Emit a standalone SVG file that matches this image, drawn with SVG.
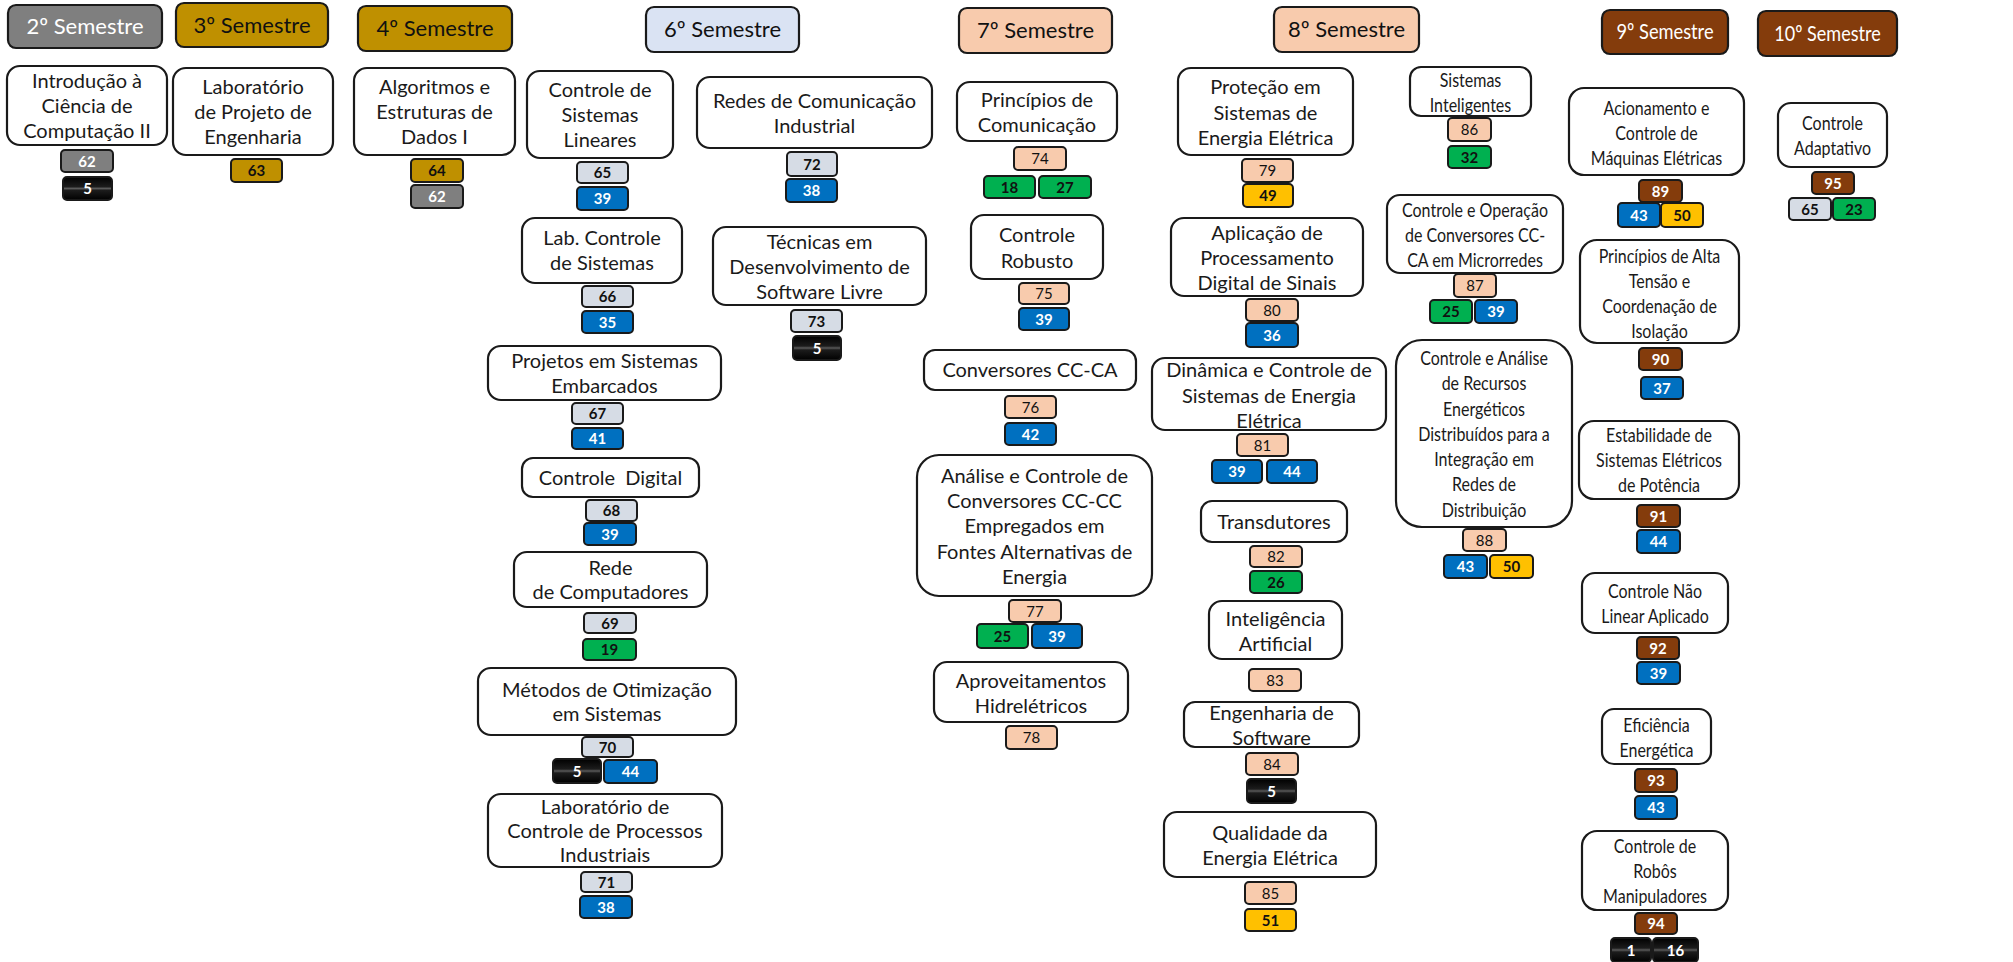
<svg xmlns="http://www.w3.org/2000/svg" width="2013" height="962" viewBox="0 0 2013 962">
<defs>
<linearGradient id="blk" x1="0" y1="0" x2="0" y2="1">
<stop offset="0" stop-color="#000"/><stop offset="0.42" stop-color="#1c1c1c"/><stop offset="0.5" stop-color="#5a5a5a"/><stop offset="0.58" stop-color="#1c1c1c"/><stop offset="1" stop-color="#000"/>
</linearGradient>
<style>
text{font-family:Lato,"Liberation Sans",sans-serif;text-anchor:middle}
.box{fill:#fff;stroke:#1a1a1a;stroke-width:2.2}
.t{font-size:20px;fill:#1a1a1a}
.hd rect{stroke:#1a1a1a;stroke-width:2.2}
.ht{font-size:22px}
.b rect{stroke:#1a1a1a;stroke-width:2}
.b text{font-size:15px;font-weight:bold}
.gray{fill:#7f7f7f}.gold{fill:#bf9000}.lg{fill:#d6dce5}.peach{fill:#f8cbad}.blue{fill:#0070c0}.green{fill:#00b050}.yel{fill:#ffc000}.brown{fill:#843c0c}.blk{fill:url(#blk)}
.w{fill:#fff}.k{fill:#111}.nw{font-weight:normal !important}
</style>
</defs>
<rect width="2013" height="962" fill="#fff"/>

<g id="headers">
<g id="h2" class="hd"><rect x="8" y="5" width="154" height="43" rx="8" class="gray"/><text class="ht w" x="85" y="34">2º Semestre</text></g>
<g id="h3" class="hd"><rect x="176" y="3" width="152" height="44" rx="8" class="gold"/><text class="ht k" x="252" y="32.5">3º Semestre</text></g>
<g id="h4" class="hd"><rect x="358" y="6" width="154" height="45" rx="8" class="gold"/><text class="ht k" x="435" y="36">4º Semestre</text></g>
<g id="h6" class="hd"><rect x="646" y="7" width="153" height="45" rx="8" fill="#dae3f3"/><text class="ht k" x="722.5" y="37">6º Semestre</text></g>
<g id="h7" class="hd"><rect x="959" y="8" width="153" height="45" rx="8" class="peach"/><text class="ht k" x="1035.5" y="38">7º Semestre</text></g>
<g id="h8" class="hd"><rect x="1274" y="7" width="145" height="45" rx="8" class="peach"/><text class="ht k" x="1346.5" y="37">8º Semestre</text></g>
<g id="h9" class="hd"><rect x="1602" y="10" width="126" height="44" rx="8" class="brown"/><text class="ht w" transform="translate(1665 0) scale(0.83 1)" x="0" y="39.5">9º Semestre</text></g>
<g id="h10" class="hd"><rect x="1758" y="11" width="139" height="45" rx="8" class="brown"/><text class="ht w" transform="translate(1827.5 0) scale(0.82 1)" x="0" y="41">10º Semestre</text></g>
</g>

<g id="connectors"/>

<g id="n_intro"><rect class="box" x="7" y="66" width="160" height="79" rx="13"/>
<text class="t" x="87" y="87.5"><tspan x="87">Introdução à</tspan><tspan x="87" dy="25">Ciência de</tspan><tspan x="87" dy="25">Computação II</tspan></text>
<g class="b"><rect class="gray" x="61" y="150" width="52" height="22" rx="4"/><text class="w" x="87" y="166.5">62</text></g>
<g class="b"><rect class="blk" x="63" y="177" width="49" height="23" rx="4"/><text class="w" x="87.5" y="194">5</text></g>
</g>

<g id="n_labproj"><rect class="box" x="173" y="68" width="160" height="87" rx="13"/>
<text class="t" x="253" y="94"><tspan x="253">Laboratório</tspan><tspan x="253" dy="25">de Projeto de</tspan><tspan x="253" dy="25">Engenharia</tspan></text>
<g class="b"><rect class="gold" x="231" y="159" width="51" height="23" rx="4"/><text class="k" x="256.5" y="176">63</text></g>
</g>

<g id="n_alg"><rect class="box" x="354" y="68" width="161" height="87" rx="13"/>
<text class="t" x="434.5" y="94"><tspan x="434.5">Algoritmos e</tspan><tspan x="434.5" dy="25">Estruturas de</tspan><tspan x="434.5" dy="25">Dados I</tspan></text>
<g class="b"><rect class="gold" x="411" y="159" width="52" height="23" rx="4"/><text class="k" x="437" y="176">64</text></g>
<g class="b"><rect class="gray" x="411" y="185" width="52" height="23" rx="4"/><text class="w" x="437" y="202">62</text></g>
</g>

<g id="n_csl"><rect class="box" x="527" y="71" width="146" height="87" rx="13"/>
<text class="t" x="600" y="97"><tspan x="600">Controle de</tspan><tspan x="600" dy="25">Sistemas</tspan><tspan x="600" dy="25">Lineares</tspan></text>
<g class="b"><rect class="lg" x="577" y="162" width="51" height="21" rx="4"/><text class="k" x="602.5" y="178">65</text></g>
<g class="b"><rect class="blue" x="577" y="187" width="51" height="23" rx="4"/><text class="w" x="602.5" y="204">39</text></g>
</g>

<g id="n_lcs"><rect class="box" x="522" y="218" width="160" height="65" rx="13"/>
<text class="t" x="602" y="245"><tspan x="602">Lab. Controle</tspan><tspan x="602" dy="25">de Sistemas</tspan></text>
<g class="b"><rect class="lg" x="582" y="286" width="51" height="21" rx="4"/><text class="k" x="607.5" y="302">66</text></g>
<g class="b"><rect class="blue" x="582" y="311" width="51" height="22" rx="4"/><text class="w" x="607.5" y="327.5">35</text></g>
</g>

<g id="n_pse"><rect class="box" x="488" y="346" width="233" height="54" rx="13"/>
<text class="t" x="604.5" y="368"><tspan x="604.5">Projetos em Sistemas</tspan><tspan x="604.5" dy="25">Embarcados</tspan></text>
<g class="b"><rect class="lg" x="572" y="403" width="51" height="21" rx="4"/><text class="k" x="597.5" y="419">67</text></g>
<g class="b"><rect class="blue" x="572" y="428" width="51" height="21" rx="4"/><text class="w" x="597.5" y="444">41</text></g>
</g>

<g id="n_cd"><rect class="box" x="522" y="458" width="177" height="39" rx="11"/>
<text class="t" x="610.5" y="484.5" xml:space="preserve">Controle  Digital</text>
<g class="b"><rect class="lg" x="586" y="500" width="51" height="21" rx="4"/><text class="k" x="611.5" y="516">68</text></g>
<g class="b"><rect class="blue" x="584" y="523" width="52" height="22" rx="4"/><text class="w" x="610" y="539.5">39</text></g>
</g>

<g id="n_rc"><rect class="box" x="514" y="552" width="193" height="55" rx="13"/>
<text class="t" x="610.5" y="574.5"><tspan x="610.5">Rede</tspan><tspan x="610.5" dy="24.5">de Computadores</tspan></text>
<g class="b"><rect class="lg" x="584" y="613" width="52" height="20" rx="4"/><text class="k" x="610" y="628.5">69</text></g>
<g class="b"><rect class="green" x="583" y="639" width="53" height="21" rx="4"/><text class="k" x="609.5" y="655">19</text></g>
</g>

<g id="n_mos"><rect class="box" x="478" y="668" width="258" height="67" rx="13"/>
<text class="t" x="607" y="696.5"><tspan x="607">Métodos de Otimização</tspan><tspan x="607" dy="24">em Sistemas</tspan></text>
<g class="b"><rect class="lg" x="582" y="737" width="51" height="20" rx="4"/><text class="k" x="607.5" y="752.5">70</text></g>
<g class="b"><rect class="blk" x="553" y="759" width="48" height="24" rx="4"/><text class="w" x="577" y="776.5">5</text></g>
<g class="b"><rect class="blue" x="604" y="760" width="53" height="23" rx="4"/><text class="w" x="630.5" y="777">44</text></g>
</g>

<g id="n_lcpi"><rect class="box" x="488" y="794" width="234" height="73" rx="13"/>
<text class="t" x="605" y="814"><tspan x="605">Laboratório de</tspan><tspan x="605" dy="24">Controle de Processos</tspan><tspan x="605" dy="23.5">Industriais</tspan></text>
<g class="b"><rect class="lg" x="581" y="872" width="51" height="20" rx="4"/><text class="k" x="606.5" y="887.5">71</text></g>
<g class="b"><rect class="blue" x="580" y="896" width="52" height="22" rx="4"/><text class="w" x="606" y="912.5">38</text></g>
</g>

<g id="n_rci"><rect class="box" x="697" y="77" width="235" height="71" rx="13"/>
<text class="t" x="814.5" y="107.5"><tspan x="814.5">Redes de Comunicação</tspan><tspan x="814.5" dy="25">Industrial</tspan></text>
<g class="b"><rect class="lg" x="787" y="152" width="50" height="24" rx="4"/><text class="k" x="812" y="169.5">72</text></g>
<g class="b"><rect class="blue" x="786" y="179" width="51" height="23" rx="4"/><text class="w" x="811.5" y="196">38</text></g>
</g>

<g id="n_tdsl"><rect class="box" x="713" y="227" width="213" height="78" rx="13"/>
<text class="t" x="819.5" y="248.5"><tspan x="819.5">Técnicas em</tspan><tspan x="819.5" dy="25">Desenvolvimento de</tspan><tspan x="819.5" dy="25">Software Livre</tspan></text>
<g class="b"><rect class="lg" x="791" y="310" width="51" height="22" rx="4"/><text class="k" x="816.5" y="326.5">73</text></g>
<g class="b"><rect class="blk" x="793" y="336" width="48" height="24" rx="4"/><text class="w" x="817" y="353.5">5</text></g>
</g>

<g id="n_pc"><rect class="box" x="957" y="82" width="160" height="59" rx="13"/>
<text class="t" x="1037" y="106.5"><tspan x="1037">Princípios de</tspan><tspan x="1037" dy="25.5">Comunicação</tspan></text>
<g class="b"><rect class="peach" x="1014" y="147" width="52" height="23" rx="4"/><text class="k nw" x="1040" y="164">74</text></g>
<g class="b"><rect class="green" x="984" y="176" width="51" height="22" rx="4"/><text class="k" x="1009.5" y="192.5">18</text></g>
<g class="b"><rect class="green" x="1039" y="176" width="52" height="22" rx="4"/><text class="k" x="1065" y="192.5">27</text></g>
</g>

<g id="n_cr"><rect class="box" x="971" y="215" width="132" height="64" rx="13"/>
<text class="t" x="1037" y="242"><tspan x="1037">Controle</tspan><tspan x="1037" dy="25.5">Robusto</tspan></text>
<g class="b"><rect class="peach" x="1019" y="283" width="50" height="21" rx="4"/><text class="k nw" x="1044" y="299">75</text></g>
<g class="b"><rect class="blue" x="1019" y="308" width="50" height="22" rx="4"/><text class="w" x="1044" y="324.5">39</text></g>
</g>

<g id="n_ccca"><rect class="box" x="924" y="350" width="212" height="40" rx="11"/>
<text class="t" x="1030" y="377">Conversores CC-CA</text>
<g class="b"><rect class="peach" x="1005" y="396" width="51" height="22" rx="4"/><text class="k nw" x="1030.5" y="412.5">76</text></g>
<g class="b"><rect class="blue" x="1005" y="423" width="51" height="22" rx="4"/><text class="w" x="1030.5" y="439.5">42</text></g>
</g>

<g id="n_acc"><rect class="box" x="917" y="455" width="235" height="141" rx="22"/>
<text class="t" x="1034.5" y="483"><tspan x="1034.5">Análise e Controle de</tspan><tspan x="1034.5" dy="25.2">Conversores CC-CC</tspan><tspan x="1034.5" dy="25.2">Empregados em</tspan><tspan x="1034.5" dy="25.2">Fontes Alternativas de</tspan><tspan x="1034.5" dy="25.2">Energia</tspan></text>
<g class="b"><rect class="peach" x="1009" y="600" width="52" height="22" rx="4"/><text class="k nw" x="1035" y="616.5">77</text></g>
<g class="b"><rect class="green" x="977" y="624" width="51" height="24" rx="4"/><text class="k" x="1002.5" y="641.5">25</text></g>
<g class="b"><rect class="blue" x="1032" y="624" width="50" height="24" rx="4"/><text class="w" x="1057" y="641.5">39</text></g>
</g>

<g id="n_ah"><rect class="box" x="934" y="662" width="194" height="60" rx="13"/>
<text class="t" x="1031" y="687.5"><tspan x="1031">Aproveitamentos</tspan><tspan x="1031" dy="25">Hidrelétricos</tspan></text>
<g class="b"><rect class="peach" x="1006" y="726" width="51" height="23" rx="4"/><text class="k nw" x="1031.5" y="743">78</text></g>
</g>

<g id="n_psee"><rect class="box" x="1178" y="68" width="175" height="87" rx="13"/>
<text class="t" x="1265.5" y="94"><tspan x="1265.5">Proteção em</tspan><tspan x="1265.5" dy="25.5">Sistemas de</tspan><tspan x="1265.5" dy="25.5">Energia Elétrica</tspan></text>
<g class="b"><rect class="peach" x="1242" y="159" width="51" height="23" rx="4"/><text class="k nw" x="1267.5" y="176">79</text></g>
<g class="b"><rect class="yel" x="1243" y="184" width="50" height="23" rx="4"/><text class="k" x="1268" y="201">49</text></g>
</g>

<g id="n_apds"><rect class="box" x="1171" y="218" width="192" height="78" rx="13"/>
<text class="t" x="1267" y="239.5"><tspan x="1267">Aplicação de</tspan><tspan x="1267" dy="25.3">Processamento</tspan><tspan x="1267" dy="25.3">Digital de Sinais</tspan></text>
<g class="b"><rect class="peach" x="1246" y="299" width="52" height="22" rx="4"/><text class="k nw" x="1272" y="315.5">80</text></g>
<g class="b"><rect class="blue" x="1246" y="323" width="52" height="24" rx="4"/><text class="w" x="1272" y="340.5">36</text></g>
</g>

<g id="n_dcsee"><rect class="box" x="1152" y="358" width="234" height="72" rx="13"/>
<text class="t" x="1269" y="377"><tspan x="1269">Dinâmica e Controle de</tspan><tspan x="1269" dy="25.5">Sistemas de Energia</tspan><tspan x="1269" dy="25.5">Elétrica</tspan></text>
<g class="b"><rect class="peach" x="1237" y="434" width="51" height="22" rx="4"/><text class="k nw" x="1262.5" y="450.5">81</text></g>
<g class="b"><rect class="blue" x="1212" y="460" width="50" height="23" rx="4"/><text class="w" x="1237" y="477">39</text></g>
<g class="b"><rect class="blue" x="1267" y="460" width="50" height="23" rx="4"/><text class="w" x="1292" y="477">44</text></g>
</g>

<g id="n_tr"><rect class="box" x="1201" y="501" width="146" height="41" rx="11"/>
<text class="t" x="1274" y="528.5">Transdutores</text>
<g class="b"><rect class="peach" x="1250" y="546" width="52" height="21" rx="4"/><text class="k nw" x="1276" y="562">82</text></g>
<g class="b"><rect class="green" x="1250" y="571" width="52" height="22" rx="4"/><text class="k" x="1276" y="587.5">26</text></g>
</g>

<g id="n_ia"><rect class="box" x="1209" y="601" width="133" height="58" rx="13"/>
<text class="t" x="1275.5" y="625.5"><tspan x="1275.5">Inteligência</tspan><tspan x="1275.5" dy="25">Artificial</tspan></text>
<g class="b"><rect class="peach" x="1249" y="669" width="52" height="22" rx="4"/><text class="k nw" x="1275" y="685.5">83</text></g>
</g>

<g id="n_es"><rect class="box" x="1184" y="702" width="175" height="45" rx="11"/>
<text class="t" x="1271.5" y="720"><tspan x="1271.5">Engenharia de</tspan><tspan x="1271.5" dy="25">Software</tspan></text>
<g class="b"><rect class="peach" x="1246" y="753" width="52" height="22" rx="4"/><text class="k nw" x="1272" y="769.5">84</text></g>
<g class="b"><rect class="blk" x="1247" y="779" width="49" height="24" rx="4"/><text class="w" x="1271.5" y="796.5">5</text></g>
</g>

<g id="n_qee"><rect class="box" x="1164" y="812" width="212" height="65" rx="13"/>
<text class="t" x="1270" y="840"><tspan x="1270">Qualidade da</tspan><tspan x="1270" dy="25">Energia Elétrica</tspan></text>
<g class="b"><rect class="peach" x="1245" y="882" width="51" height="22" rx="4"/><text class="k nw" x="1270.5" y="898.5">85</text></g>
<g class="b"><rect class="yel" x="1245" y="909" width="51" height="22" rx="4"/><text class="k" x="1270.5" y="925.5">51</text></g>
</g>

<g id="n_si"><rect class="box" x="1410" y="67" width="121" height="49" rx="11"/>
<text class="t" transform="translate(1470.5 0) scale(0.8 1)" x="0" y="87"><tspan x="0">Sistemas</tspan><tspan x="0" dy="25.5">Inteligentes</tspan></text>
<g class="b"><rect class="peach" x="1448" y="118" width="43" height="23" rx="4"/><text class="k nw" x="1469.5" y="135">86</text></g>
<g class="b"><rect class="green" x="1448" y="146" width="43" height="22" rx="4"/><text class="k" x="1469.5" y="162.5">32</text></g>
</g>

<g id="n_cocc"><rect class="box" x="1387" y="195" width="176" height="78" rx="13"/>
<text class="t" transform="translate(1475 0) scale(0.8 1)" x="0" y="217"><tspan x="0">Controle e Operação</tspan><tspan x="0" dy="25">de Conversores CC-</tspan><tspan x="0" dy="25">CA em Microrredes</tspan></text>
<g class="b"><rect class="peach" x="1454" y="274" width="42" height="23" rx="4"/><text class="k nw" x="1475" y="291">87</text></g>
<g class="b"><rect class="green" x="1430" y="300" width="42" height="23" rx="4"/><text class="k" x="1451" y="317">25</text></g>
<g class="b"><rect class="blue" x="1475" y="300" width="42" height="23" rx="4"/><text class="w" x="1496" y="317">39</text></g>
</g>

<g id="n_carr"><rect class="box" x="1396" y="340" width="176" height="187" rx="26"/>
<text class="t" transform="translate(1484 0) scale(0.8 1)" x="0" y="365"><tspan x="0">Controle e Análise</tspan><tspan x="0" dy="25.3">de Recursos</tspan><tspan x="0" dy="25.3">Energéticos</tspan><tspan x="0" dy="25.3">Distribuídos para a</tspan><tspan x="0" dy="25.3">Integração em</tspan><tspan x="0" dy="25.3">Redes de</tspan><tspan x="0" dy="25.3">Distribuição</tspan></text>
<g class="b"><rect class="peach" x="1463" y="529" width="43" height="22" rx="4"/><text class="k nw" x="1484.5" y="545.5">88</text></g>
<g class="b"><rect class="blue" x="1444" y="555" width="43" height="23" rx="4"/><text class="w" x="1465.5" y="572">43</text></g>
<g class="b"><rect class="yel" x="1490" y="555" width="43" height="23" rx="4"/><text class="k" x="1511.5" y="572">50</text></g>
</g>

<g id="n_acme"><rect class="box" x="1569" y="88" width="175" height="87" rx="15"/>
<text class="t" transform="translate(1656.5 0) scale(0.8 1)" x="0" y="115"><tspan x="0">Acionamento e</tspan><tspan x="0" dy="25">Controle de</tspan><tspan x="0" dy="25">Máquinas Elétricas</tspan></text>
<g class="b"><rect class="brown" x="1639" y="180" width="43" height="22" rx="4"/><text class="w" x="1660.5" y="196.5">89</text></g>
<g class="b"><rect class="blue" x="1618" y="203" width="42" height="24" rx="4"/><text class="w" x="1639" y="220.5">43</text></g>
<g class="b"><rect class="yel" x="1661" y="203" width="42" height="24" rx="4"/><text class="k" x="1682" y="220.5">50</text></g>
</g>

<g id="n_pat"><rect class="box" x="1580" y="240" width="159" height="103" rx="17"/>
<text class="t" transform="translate(1659.5 0) scale(0.8 1)" x="0" y="263"><tspan x="0">Princípios de Alta</tspan><tspan x="0" dy="25">Tensão e</tspan><tspan x="0" dy="25">Coordenação de</tspan><tspan x="0" dy="25">Isolação</tspan></text>
<g class="b"><rect class="brown" x="1639" y="348" width="43" height="22" rx="4"/><text class="w" x="1660.5" y="364.5">90</text></g>
<g class="b"><rect class="blue" x="1641" y="377" width="42" height="22" rx="4"/><text class="w" x="1662" y="393.5">37</text></g>
</g>

<g id="n_esep"><rect class="box" x="1579" y="421" width="160" height="78" rx="15"/>
<text class="t" transform="translate(1659 0) scale(0.8 1)" x="0" y="442"><tspan x="0">Estabilidade de</tspan><tspan x="0" dy="25">Sistemas Elétricos</tspan><tspan x="0" dy="25">de Potência</tspan></text>
<g class="b"><rect class="brown" x="1637" y="505" width="43" height="22" rx="4"/><text class="w" x="1658.5" y="521.5">91</text></g>
<g class="b"><rect class="blue" x="1637" y="530" width="43" height="23" rx="4"/><text class="w" x="1658.5" y="547">44</text></g>
</g>

<g id="n_cnla"><rect class="box" x="1582" y="573" width="146" height="60" rx="13"/>
<text class="t" transform="translate(1655 0) scale(0.8 1)" x="0" y="598"><tspan x="0">Controle Não</tspan><tspan x="0" dy="25">Linear Aplicado</tspan></text>
<g class="b"><rect class="brown" x="1637" y="637" width="42" height="22" rx="4"/><text class="w" x="1658" y="653.5">92</text></g>
<g class="b"><rect class="blue" x="1637" y="662" width="43" height="22" rx="4"/><text class="w" x="1658.5" y="678.5">39</text></g>
</g>

<g id="n_ee"><rect class="box" x="1602" y="709" width="109" height="55" rx="12"/>
<text class="t" transform="translate(1656.5 0) scale(0.8 1)" x="0" y="732"><tspan x="0">Eficiência</tspan><tspan x="0" dy="25">Energética</tspan></text>
<g class="b"><rect class="brown" x="1635" y="769" width="42" height="23" rx="4"/><text class="w" x="1656" y="786">93</text></g>
<g class="b"><rect class="blue" x="1635" y="796" width="42" height="23" rx="4"/><text class="w" x="1656" y="813">43</text></g>
</g>

<g id="n_crm"><rect class="box" x="1582" y="831" width="146" height="79" rx="15"/>
<text class="t" transform="translate(1655 0) scale(0.8 1)" x="0" y="853"><tspan x="0">Controle de</tspan><tspan x="0" dy="25">Robôs</tspan><tspan x="0" dy="25">Manipuladores</tspan></text>
<g class="b"><rect class="brown" x="1635" y="913" width="42" height="21" rx="4"/><text class="w" x="1656" y="929">94</text></g>
<g class="b"><rect class="blk" x="1611" y="938" width="40" height="24" rx="4"/><text class="w" x="1631" y="955.5">1</text></g>
<g class="b"><rect class="blk" x="1653" y="938" width="45" height="24" rx="4"/><text class="w" x="1675.5" y="955.5">16</text></g>
</g>

<g id="n_ca"><rect class="box" x="1778" y="103" width="109" height="64" rx="13"/>
<text class="t" transform="translate(1832.5 0) scale(0.8 1)" x="0" y="130"><tspan x="0">Controle</tspan><tspan x="0" dy="25.5">Adaptativo</tspan></text>
<g class="b"><rect class="brown" x="1812" y="172" width="42" height="22" rx="4"/><text class="w" x="1833" y="188.5">95</text></g>
<g class="b"><rect class="lg" x="1789" y="198" width="42" height="22" rx="4"/><text class="k" x="1810" y="214.5">65</text></g>
<g class="b"><rect class="green" x="1833" y="198" width="42" height="22" rx="4"/><text class="k" x="1854" y="214.5">23</text></g>
</g>
</svg>
